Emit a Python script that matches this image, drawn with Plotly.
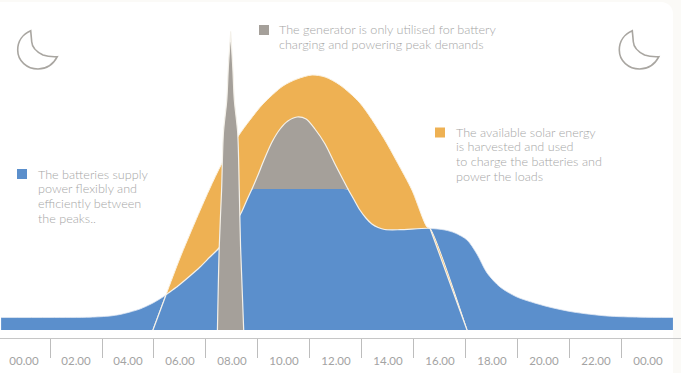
import plotly.graph_objects as go

# ---- data (hours of the day, relative power) ----
load_h = [-0.88,1.00,2.54,3.31,3.69,4.08,4.46,4.96,5.46,5.92,6.38,6.77,7.15,7.50,7.92,8.35,8.54,8.75,8.77,
          12.46,12.48,12.69,12.92,13.15,13.38,13.62,13.88,14.46,15.62,16.19,16.58,17.04,17.42,17.81,18.31,18.96,
          20.12,21.12,22.42,23.69,24.96]
load_v = [12.5,12.5,12.8,14,15.5,18,21,27,35,44,54,63,73,82,99,117,128,140,141,
          141,140,130.5,120,112,106,102.5,100.5,100.3,101.5,100,97,90,76,57,43,33,
          23.5,18,14,12.8,12.5]
solar_h = [4.96,5.46,6.00,6.58,7.12,7.62,8.27,8.69,9.19,9.96,10.50,11.08,11.58,12.15,12.92,13.81,14.35,14.92,15.50,15.62,17.04]
solar_v = [0,35,72,108,140,167,195,210,226,244,251,255,253,245,227,193,168,140,103,101.5,0]
gen_top_h = [8.77,9.00,9.23,9.54,9.85,10.15,10.50,10.85,11.19,11.58,11.96,12.46]
gen_top_v = [141,155,170,188,201,209,213,211,201,186,166,141]
spike_h = [7.44,7.51,7.60,7.67,7.80,7.86,7.945,7.95,7.955,8.03,8.09,8.22,8.28,8.33,8.45]
spike_v = [0,83,140,197,230,263,296,298.5,296,263,230,197,140,83,0]
tick_hours = [0,2,4,6,8,10,12,14,16,18,20,22,24]
tick_labels = ["00.00","02.00","04.00","06.00","08.00","10.00","12.00","14.00","16.00","18.00","20.00","22.00","00.00"]
tick_edges = [1,3,5,7,9,11,13,15,17,19,21,23]
notes = [
    (["The batteries supply","power flexibly and","efficiently between","the peaks.."], 37, 174, "#5b8fcc", 17, 169),
    (["The generator is only utilised for battery","charging and powering peak demands"], 277.5, 29.5, "#a5a09a", 259, 25),
    (["The available solar energy","is harvested and used","to charge the batteries and","power the loads"], 455, 132, "#eeb153", 435, 127.5),
]

W, H = 681, 373
BLUE, ORANGE, GREY = "#5b8fcc", "#eeb153", "#a5a09a"
EDGE = dict(color="#f4f1ea", width=1.2, shape="spline", smoothing=0.8)
px = lambda v: v / W
py = lambda v: 1 - v / H

i0 = load_h.index(5.46)
i1 = load_h.index(15.62)
inner_h = [solar_h[0], 5.45] + load_h[i0:i1 + 1] + [15.63, solar_h[-1]]
inner_v = [0, 34.3] + load_v[i0:i1 + 1] + [100.8, 0]

fig = go.Figure()
fig.add_trace(go.Scatter(x=load_h, y=load_v, mode="lines", fill="tozeroy", fillcolor=BLUE,
                         line=dict(color="#dfe7f2", width=0.8, shape="spline", smoothing=0.8)))
fig.add_trace(go.Scatter(x=solar_h, y=solar_v, mode="lines", fill="toself", fillcolor=ORANGE,
                         line=dict(color="#fbf3e4", width=1, shape="spline", smoothing=0.8)))
fig.add_trace(go.Scatter(x=inner_h, y=inner_v, mode="lines", fill="toself", fillcolor=BLUE, line=EDGE))
fig.add_trace(go.Scatter(x=gen_top_h, y=gen_top_v, mode="lines", fill="toself", fillcolor=GREY, line=EDGE))
fig.add_trace(go.Scatter(x=spike_h, y=spike_v, mode="lines", fill="toself", fillcolor=GREY, line=EDGE))

shapes = [dict(type="path", xref="paper", yref="paper", xsizemode="pixel", ysizemode="pixel", xanchor=0, yanchor=1, layer="below",
               path="M 0,-2 L 661,-2 C 668,-2 673,-7 673,-14 L 673,-373 L 0,-373 Z",
               fillcolor="white", line=dict(width=0))]
MOON = ("M -6.3,19.3 C -14,16 -19.3,9 -19.3,0 C -19.3,-11 -10,-19 1,-19 C 9,-19 16,-15 20.3,-6.7 "
        "C 14,-7 10,-6.5 6,-5 C 0,-2 -5,3 -5.3,8.3 C -5.6,12 -6,16 -6.3,19.3 Z")
for cx in (37, 638.6):
    shapes.append(dict(type="path", xref="paper", yref="paper", xsizemode="pixel", ysizemode="pixel",
                       xanchor=px(cx), yanchor=py(50), path=MOON, fillcolor="rgba(0,0,0,0)",
                       line=dict(color="#a9a6a1", width=1.6)))
annotations = []
for lines, tx, ty, col, sx, sy in notes:
    shapes.append(dict(type="rect", xref="paper", yref="paper", x0=px(sx), x1=px(sx + 10), y0=py(sy), y1=py(sy + 10),
                       fillcolor=col, line=dict(width=0)))
    for i, line in enumerate(lines):
        annotations.append(dict(text=line, x=px(tx), y=py(ty + i * 14.8), xref="paper", yref="paper",
                                xanchor="left", yanchor="middle", align="left", showarrow=False, borderpad=0,
                                font=dict(family="Lato", size=12.6, weight=300, color="#a6a6a6")))

fig.update_layout(
    width=W, height=H, margin=dict(l=0, r=0, t=0, b=0), autosize=False,
    paper_bgcolor="#fbfaf7", plot_bgcolor="rgba(0,0,0,0)", showlegend=False, hovermode=False,
    shapes=shapes, annotations=annotations,
    xaxis=dict(range=[-0.923, 25.27], showgrid=False, zeroline=False, showline=True, linecolor="#c6c6c6", linewidth=1,
               tickvals=tick_hours, ticktext=tick_labels, ticks="outside", ticklen=12, tickcolor="rgba(0,0,0,0)",
               tickfont=dict(family="Lato", size=11.5, color="#a3a3a3"),
               minor=dict(tickvals=tick_edges, ticks="outside", ticklen=19, tickcolor="#bdbdbd", tickwidth=1)),
    yaxis=dict(range=[-8, 330], domain=[35 / H, 1], visible=False),
)
fig.write_html("out.html", config=dict(displayModeBar=False),
               post_script="document.body.style.margin='0';document.body.style.overflow='hidden';")
